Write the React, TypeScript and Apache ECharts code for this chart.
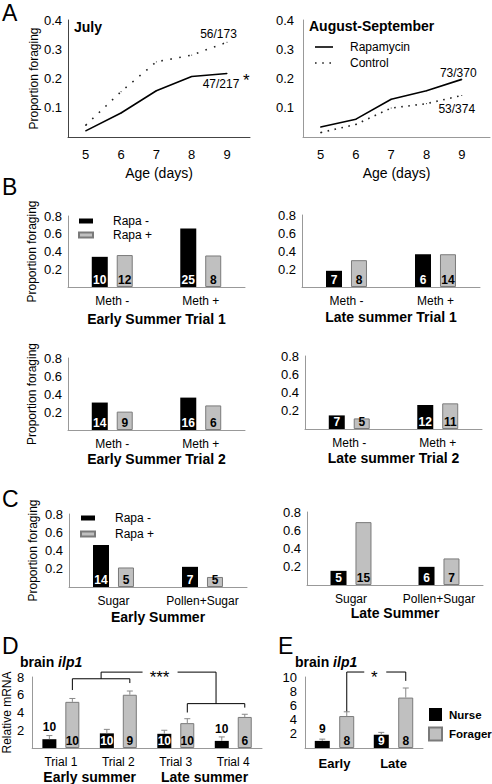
import React, { useEffect, useRef } from 'react';
import * as echarts from 'echarts';

const FONT = '"Liberation Sans", Arial, Helvetica, sans-serif';

// ---------- Panel A data ----------
const ages = [5, 6, 7, 8, 9];
const julyRapamycin = [0.021, 0.082, 0.158, 0.207, 0.217];
const julyControl = [0.04, 0.155, 0.257, 0.28, 0.324];
const augRapamycin = [0.034, 0.061, 0.129, 0.158, 0.197];
const augControl = [0.015, 0.043, 0.099, 0.114, 0.142];
const julyRapamycinCount = '47/217';
const julyControlCount = '56/173';
const augRapamycinCount = '73/370';
const augControlCount = '53/374';

// ---------- Panel B data ----------
const methCategories = ['Meth -', 'Meth +'];
const earlyT1RapaMinus = [0.34, 0.66];
const earlyT1RapaPlus = [0.36, 0.355];
const earlyT1RapaMinusN = [10, 25];
const earlyT1RapaPlusN = [12, 8];
const lateT1RapaMinus = [0.18, 0.364];
const lateT1RapaPlus = [0.298, 0.364];
const lateT1RapaMinusN = [7, 6];
const lateT1RapaPlusN = [8, 14];
const earlyT2RapaMinus = [0.305, 0.36];
const earlyT2RapaPlus = [0.204, 0.273];
const earlyT2RapaMinusN = [14, 16];
const earlyT2RapaPlusN = [9, 6];
const lateT2RapaMinus = [0.149, 0.263];
const lateT2RapaPlus = [0.116, 0.281];
const lateT2RapaMinusN = [7, 12];
const lateT2RapaPlusN = [5, 11];

// ---------- Panel C data ----------
const dietCategories = ['Sugar', 'Pollen+Sugar'];
const earlyDietRapaMinus = [0.46, 0.221];
const earlyDietRapaPlus = [0.214, 0.11];
const earlyDietRapaMinusN = [14, 7];
const earlyDietRapaPlusN = [5, 5];
const lateDietRapaMinus = [0.155, 0.199];
const lateDietRapaPlus = [0.689, 0.291];
const lateDietRapaMinusN = [5, 6];
const lateDietRapaPlusN = [15, 7];

// ---------- Panel D data ----------
const trialCategories = ['Trial 1', 'Trial 2', 'Trial 3', 'Trial 4'];
const seasonCategories = ['Early summer', 'Late summer'];
const dNurse = [0.99, 1.65, 1.6, 0.8];
const dNurseSem = [0.41, 0.45, 0.4, 0.45];
const dForager = [5.2, 6.0, 2.8, 3.5];
const dForagerSem = [0.38, 0.42, 0.5, 0.3];
const dNurseN = [10, 10, 10, 10];
const dForagerN = [10, 9, 10, 6];

// ---------- Panel E data ----------
const eCategories = ['Early', 'Late'];
const eNurse = [1.0, 1.87];
const eNurseSem = [0.25, 0.33];
const eForager = [4.5, 7.1];
const eForagerSem = [0.6, 1.35];
const eNurseN = [9, 9];
const eForagerN = [8, 8];

// ---------- styling ----------
const BLACK = '#000';
const GRAY_FILL = '#c0c0c0';
const GRAY_BORDER = '#7a7a7a';
const AXIS_GRAY = '#999';

const barPanels = [
  { cats: methCategories, minus: earlyT1RapaMinus, plus: earlyT1RapaPlus, nMinus: earlyT1RapaMinusN, nPlus: earlyT1RapaPlusN, title: 'Early Summer Trial 1', yName: true, grid: { left: 68, top: 216, width: 177, height: 71 }, nameGap: 25 },
  { cats: methCategories, minus: lateT1RapaMinus, plus: lateT1RapaPlus, nMinus: lateT1RapaMinusN, nPlus: lateT1RapaPlusN, title: 'Late summer Trial 1', yName: false, grid: { left: 302, top: 215, width: 178, height: 72 }, nameGap: 23 },
  { cats: methCategories, minus: earlyT2RapaMinus, plus: earlyT2RapaPlus, nMinus: earlyT2RapaMinusN, nPlus: earlyT2RapaPlusN, title: 'Early Summer Trial 2', yName: true, grid: { left: 68, top: 358, width: 177, height: 72 }, nameGap: 22 },
  { cats: methCategories, minus: lateT2RapaMinus, plus: lateT2RapaPlus, nMinus: lateT2RapaMinusN, nPlus: lateT2RapaPlusN, title: 'Late summer Trial 2', yName: false, grid: { left: 305, top: 356, width: 177, height: 73 }, nameGap: 22 },
  { cats: dietCategories, minus: earlyDietRapaMinus, plus: earlyDietRapaPlus, nMinus: earlyDietRapaMinusN, nPlus: earlyDietRapaPlusN, title: 'Early Summer', yName: true, grid: { left: 69, top: 514, width: 178, height: 73 }, nameGap: 23 },
  { cats: dietCategories, minus: lateDietRapaMinus, plus: lateDietRapaPlus, nMinus: lateDietRapaMinusN, nPlus: lateDietRapaPlusN, title: 'Late Summer', yName: false, grid: { left: 307, top: 512, width: 176, height: 73 }, nameGap: 21 },
];

const D_GRID = { left: 32, top: 677, width: 230, height: 72 };
const E_GRID = { left: 305, top: 677, width: 118, height: 71 };
const D_MAX = 8;
const E_MAX = 10;
const D_BAR_W = 14;
const D_BAR_GAP = 9;
const E_BAR_W = 15;
const E_BAR_GAP = 9.5;

const txt = (size: number, weight: string = 'normal') => ({ fontSize: size, fontWeight: weight, color: BLACK, fontFamily: FONT });

function buildOption() {
  const grid: any[] = [
    { left: 68, top: 20, width: 182, height: 117 },
    { left: 303, top: 20, width: 187, height: 117 },
    ...barPanels.map((p) => p.grid),
    D_GRID,
    E_GRID,
  ];

  const xAxis: any[] = [];
  const yAxis: any[] = [];
  const series: any[] = [];

  // ----- Panel A -----
  const aPanels = [
    { rapa: julyRapamycin, ctrl: julyControl, rapaN: julyRapamycinCount, ctrlN: julyControlCount, max: 9.65, axisColor: '#444', labelMargin: 6, yName: 'Proportion foraging',
      rapaLabel: { position: 'bottom', distance: 4, offset: [-6, 0] }, ctrlLabel: { position: 'top', distance: 2, offset: [-8.5, 0] }, dash: [1.6, 7.5] },
    { rapa: augRapamycin, ctrl: augControl, rapaN: augRapamycinCount, ctrlN: augControlCount, max: 9.8, axisColor: AXIS_GRAY, labelMargin: 9, yName: '',
      rapaLabel: { position: 'top', distance: 0, offset: [-3.5, 0] }, ctrlLabel: { position: 'bottom', distance: 7, offset: [-5, 0] }, dash: [1.6, 5.5] },
  ];
  aPanels.forEach((p, gi) => {
    xAxis.push({
      type: 'value', gridIndex: gi, min: 4.5, max: p.max,
      axisLine: { show: true, onZero: false, lineStyle: { color: p.axisColor } },
      axisTick: { show: false }, splitLine: { show: false },
      axisLabel: { ...txt(13), margin: 11, customValues: ages, formatter: (v: number) => String(v) },
      name: 'Age (days)', nameLocation: 'middle', nameGap: 29, nameTextStyle: txt(14),
    });
    yAxis.push({
      type: 'value', gridIndex: gi, min: 0, max: 0.4, interval: 0.1,
      axisLine: { show: true, lineStyle: { color: p.axisColor } },
      axisTick: { show: false }, splitLine: { show: false },
      axisLabel: { ...txt(13), margin: p.labelMargin, formatter: (v: number) => (v === 0 ? '' : v.toFixed(1)) },
      name: p.yName, nameLocation: 'middle', nameGap: 28, nameTextStyle: txt(12),
    });
    const mk = (vals: number[], count: string, lab: any) =>
      ages.map((a, i) =>
        i === ages.length - 1
          ? { value: [a, vals[i]], label: { show: true, formatter: count, ...txt(12), ...lab } }
          : [a, vals[i]]
      );
    series.push({
      type: 'line', name: 'Rapamycin', xAxisIndex: gi, yAxisIndex: gi,
      data: mk(p.rapa, p.rapaN, p.rapaLabel), symbol: 'circle', symbolSize: 1,
      itemStyle: { color: '#000' }, lineStyle: { color: '#000', width: 1.6 },
    });
    series.push({
      type: 'line', name: 'Control', xAxisIndex: gi, yAxisIndex: gi,
      data: mk(p.ctrl, p.ctrlN, p.ctrlLabel), symbol: 'circle', symbolSize: 1,
      itemStyle: { color: '#222' }, lineStyle: { color: '#222', width: 1.6, type: p.dash },
    });
  });

  // ----- Panels B & C -----
  barPanels.forEach((p, k) => {
    const gi = k + 2;
    xAxis.push({
      type: 'category', gridIndex: gi, data: p.cats,
      axisLine: { show: true, lineStyle: { color: AXIS_GRAY } },
      axisTick: { show: false },
      axisLabel: { ...txt(12), margin: 8, interval: 0 },
      name: p.title, nameLocation: 'middle', nameGap: p.nameGap, nameTextStyle: txt(14, 'bold'),
    });
    yAxis.push({
      type: 'value', gridIndex: gi, min: 0, max: 0.8, interval: 0.2,
      axisLine: { show: true, lineStyle: { color: AXIS_GRAY } },
      axisTick: { show: false }, splitLine: { show: false },
      axisLabel: { ...txt(13), margin: 6, formatter: (v: number) => (v === 0 ? '' : v.toFixed(1)) },
      name: p.yName ? 'Proportion foraging' : '', nameLocation: 'middle', nameGap: 30, nameTextStyle: txt(12),
    });
    series.push({
      type: 'bar', name: 'Rapa -', xAxisIndex: gi, yAxisIndex: gi, data: p.minus,
      barWidth: 16, barGap: '56%', itemStyle: { color: BLACK },
      label: { show: true, position: 'insideBottom', distance: 1, ...txt(12, 'bold'), color: '#fff', formatter: (q: any) => String(p.nMinus[q.dataIndex]) },
    });
    series.push({
      type: 'bar', name: 'Rapa +', xAxisIndex: gi, yAxisIndex: gi, data: p.plus,
      barWidth: 16, barGap: '56%', itemStyle: { color: GRAY_FILL, borderColor: GRAY_BORDER, borderWidth: 1 },
      label: { show: true, position: 'insideBottom', distance: 1, ...txt(12, 'bold'), formatter: (q: any) => String(p.nPlus[q.dataIndex]) },
    });
  });

  // ----- Panels D & E -----
  const qPanels = [
    { gi: 8, cats: trialCategories, nurse: dNurse, nurseSem: dNurseSem, forager: dForager, foragerSem: dForagerSem, nN: dNurseN, fN: dForagerN, max: D_MAX, interval: 2, grid: D_GRID, barW: D_BAR_W, gap: D_BAR_GAP, labelStyle: txt(12), labelMargin: 8, yName: 'Relative mRNA' },
    { gi: 9, cats: eCategories, nurse: eNurse, nurseSem: eNurseSem, forager: eForager, foragerSem: eForagerSem, nN: eNurseN, fN: eForagerN, max: E_MAX, interval: 2, grid: E_GRID, barW: E_BAR_W, gap: E_BAR_GAP, labelStyle: txt(13, 'bold'), labelMargin: 9, yName: '' },
  ];
  qPanels.forEach((p) => {
    xAxis.push({
      type: 'category', gridIndex: p.gi, data: p.cats,
      axisLine: { show: true, lineStyle: { color: AXIS_GRAY } },
      axisTick: { show: false },
      axisLabel: { ...p.labelStyle, margin: p.labelMargin, interval: 0 },
    });
    yAxis.push({
      type: 'value', gridIndex: p.gi, min: 0, max: p.max, interval: p.interval,
      axisLine: { show: true, lineStyle: { color: AXIS_GRAY } },
      axisTick: { show: false }, splitLine: { show: false },
      axisLabel: { ...txt(13), margin: 8, formatter: (v: number) => (v === 0 ? '' : String(v)) },
      name: p.yName, nameLocation: 'middle', nameGap: 19, nameTextStyle: txt(12),
    });
    const pxPerUnit = p.grid.height / p.max;
    const barGapPct = `${Math.round((p.gap / p.barW) * 100)}%`;
    const nurseData = p.nurse.map((v) =>
      v * pxPerUnit < 12 ? { value: v, label: { position: 'top', distance: 6, color: BLACK } } : v
    );
    series.push({
      type: 'bar', name: 'Nurse', xAxisIndex: p.gi, yAxisIndex: p.gi, data: nurseData,
      barWidth: p.barW, barGap: barGapPct, itemStyle: { color: BLACK },
      label: { show: true, position: 'insideBottom', distance: 1, ...txt(12, 'bold'), color: '#fff', formatter: (q: any) => String(p.nN[q.dataIndex]) },
    });
    series.push({
      type: 'bar', name: 'Forager', xAxisIndex: p.gi, yAxisIndex: p.gi, data: p.forager,
      barWidth: p.barW, barGap: barGapPct, itemStyle: { color: GRAY_FILL, borderColor: GRAY_BORDER, borderWidth: 1 },
      label: { show: true, position: 'insideBottom', distance: 1, ...txt(12, 'bold'), formatter: (q: any) => String(p.fN[q.dataIndex]) },
    });
    const half = (p.barW + p.gap) / 2;
    const errSeries = (vals: number[], sems: number[], offset: number) => ({
      type: 'custom', xAxisIndex: p.gi, yAxisIndex: p.gi, silent: true, z: 5,
      data: vals.map((v, i) => [i, v, sems[i]]),
      renderItem: (params: any, api: any) => {
        const i = api.value(0);
        const v = api.value(1);
        const e = api.value(2);
        const base = api.coord([i, v]);
        const top = api.coord([i, v + e]);
        const cx = base[0] + offset;
        return {
          type: 'group',
          children: [
            { type: 'line', shape: { x1: cx, y1: base[1], x2: cx, y2: top[1] }, style: { stroke: '#888', lineWidth: 1 } },
            { type: 'line', shape: { x1: cx - 3, y1: top[1], x2: cx + 3, y2: top[1] }, style: { stroke: '#888', lineWidth: 1 } },
          ],
        };
      },
    });
    series.push(errSeries(p.nurse, p.nurseSem, -half));
    series.push(errSeries(p.forager, p.foragerSem, half));
  });

  // Season group labels under panel D
  xAxis.push({
    type: 'category', gridIndex: 8, data: seasonCategories, position: 'bottom', offset: 0,
    axisLine: { show: false }, axisTick: { show: false },
    axisLabel: { ...txt(14, 'bold'), margin: 22, interval: 0 },
  });

  const legendText = (size: number, weight: string, padLeft: number) => ({ fontSize: size, fontWeight: weight, color: BLACK, fontFamily: FONT, padding: [0, 0, 0, padLeft] });

  const solidIcon = 'path://M0,0H18V1.6H0Z';
  const dottedIcon = 'path://M0,0H1.6V1.6H0Z M7.2,0H8.8V1.6H7.2Z M14.4,0H16V1.6H14.4Z M16,0H18V0.01H16Z';

  const legend: any[] = [
    { data: [{ name: 'Rapamycin', icon: solidIcon }, { name: 'Control', icon: dottedIcon }], left: 310, top: 36, orient: 'vertical', itemWidth: 18, itemHeight: 1.6, itemGap: 4, textStyle: legendText(12, 'normal', 12), selectedMode: false },
    { data: ['Rapa -', 'Rapa +'], left: 73, top: 210, orient: 'vertical', icon: 'rect', itemWidth: 14, itemHeight: 5, itemGap: 2, textStyle: legendText(12, 'normal', 15), selectedMode: false },
    { data: ['Rapa -', 'Rapa +'], left: 75, top: 507, orient: 'vertical', icon: 'rect', itemWidth: 14, itemHeight: 5, itemGap: 4, textStyle: legendText(12, 'normal', 15), selectedMode: false },
    { data: ['Nurse', 'Forager'], left: 423, top: 703, orient: 'vertical', icon: 'rect', itemWidth: 13, itemHeight: 13, itemGap: 5.5, textStyle: legendText(11.5, 'bold', 2), selectedMode: false },
  ];

  const letter = (t: string, left: number, top: number) => ({ text: t, left, top, padding: 0, textStyle: { fontSize: 23, fontWeight: 'normal', color: BLACK, fontFamily: FONT } });
  const brainRich = { a: { fontSize: 14, fontWeight: 'bold', color: BLACK, fontFamily: FONT }, b: { fontSize: 14, fontWeight: 'bold', fontStyle: 'italic', color: BLACK, fontFamily: FONT } };

  const title: any[] = [
    letter('A', 2, 1),
    letter('B', 2, 175),
    letter('C', 2, 487),
    letter('D', 2, 634),
    letter('E', 278, 634),
    { text: 'July', left: 74, top: 20, padding: 0, textStyle: txt(14, 'bold') },
    { text: 'August-September', left: 309, top: 19, padding: 0, textStyle: txt(14, 'bold') },
    { text: '*', left: 243, top: 72, padding: 0, textStyle: txt(17) },
    { text: '{a|brain }{b|ilp1}', left: 20, top: 655, padding: 0, textStyle: { rich: brainRich } },
    { text: '{a|brain }{b|ilp1}', left: 295, top: 655, padding: 0, textStyle: { rich: brainRich } },
  ];

  return {
    animation: false,
    backgroundColor: '#fff',
    textStyle: { fontFamily: FONT },
    title,
    legend,
    grid,
    xAxis,
    yAxis,
    series,
  };
}

function buildBrackets(chart: any) {
  const out: any[] = [];
  const line = (pts: number[][]) => ({ type: 'polyline', shape: { points: pts }, style: { stroke: '#000', lineWidth: 1, fill: 'none' }, silent: true });
  const label = (t: string, x: number, y: number, size: number) => ({
    type: 'text', x, y, silent: true,
    style: { text: t, fontSize: size, fontFamily: FONT, fill: '#000', align: 'center', verticalAlign: 'middle', textAlign: 'center', textVerticalAlign: 'middle' },
  });

  // Panel D: early vs late summer forager comparison
  const dx = (i: number) => chart.convertToPixel({ xAxisIndex: 8 }, i) + (D_BAR_W + D_BAR_GAP) / 2;
  const dy = (v: number) => chart.convertToPixel({ yAxisIndex: 8 }, v);
  const dTop = (i: number) => dForager[i] + dForagerSem[i];
  const x1 = dx(0), x2 = dx(1), x3 = dx(2), x4 = dx(3);
  const yL = dy(7.8), yT = dy(8.55), yR = dy(5.0);
  const midL = (x1 + x2) / 2, midR = (x3 + x4) / 2, mid = (midL + midR) / 2;
  out.push(line([[x1, dy(dTop(0) + 0.95)], [x1, yL], [x2, yL], [x2, dy(dTop(1) + 0.9)]]));
  out.push(line([[midL, yL], [midL, yT], [mid - 16, yT]]));
  out.push(line([[mid + 19, yT], [midR, yT], [midR, yR]]));
  out.push(line([[x3, dy(dTop(2) + 0.7)], [x3, yR], [x4, yR], [x4, dy(dTop(3) + 0.75)]]));
  out.push(label('***', mid + 1, yT + 5, 17));

  // Panel E
  const ex = (i: number) => chart.convertToPixel({ xAxisIndex: 9 }, i) + (E_BAR_W + E_BAR_GAP) / 2;
  const ey = (v: number) => chart.convertToPixel({ yAxisIndex: 9 }, v);
  const e1 = ex(0), e2 = ex(1);
  const eT = ey(10.7);
  const eMid = (e1 + e2) / 2;
  out.push(line([[e1, ey(eForager[0] + eForagerSem[0])], [e1, eT], [eMid - 12, eT]]));
  out.push(line([[eMid + 10, eT], [e2, eT], [e2, ey(eForager[1] + eForagerSem[1] + 1.0)]]));
  out.push(label('*', eMid - 2, eT + 5, 17));
  return out;
}

export default function App() {
  const ref = useRef<HTMLDivElement>(null);
  useEffect(() => {
    if (!ref.current) return;
    const chart = echarts.init(ref.current, null, { renderer: 'svg' });
    chart.setOption(buildOption() as any);
    chart.setOption({ graphic: buildBrackets(chart) } as any);
    return () => chart.dispose();
  }, []);
  return <div ref={ref} style={{ position: 'fixed', left: 0, top: 0, width: 492, height: 784, background: '#fff' }} />;
}
